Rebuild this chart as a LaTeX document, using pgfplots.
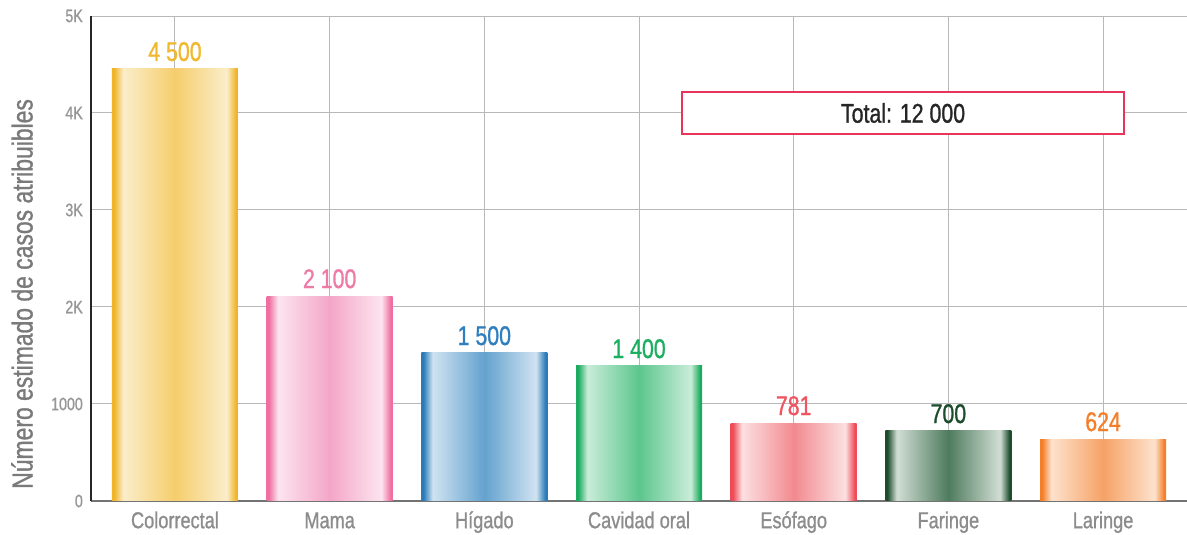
\documentclass[border=0pt]{standalone}
\usepackage{pgfplots}
\pgfplotsset{compat=1.18}
\usepackage{fontspec}
\setmainfont{Liberation Sans}[FakeStretch=0.79, FakeBold=1]

\definecolor{gridc}{HTML}{B8B8B8}
\definecolor{tickc}{HTML}{969696}
\definecolor{catc}{HTML}{8C8C8C}
\definecolor{ylc}{HTML}{7A7A7A}
\definecolor{boxc}{HTML}{E8335A}

\definecolor{d1}{HTML}{F0B429}\definecolor{m1}{HTML}{F5CE6C}\definecolor{l1}{HTML}{FBEDCA}
\definecolor{d2}{HTML}{EE6FA0}\definecolor{m2}{HTML}{F4A6C8}\definecolor{l2}{HTML}{FCE4EF}
\definecolor{d3}{HTML}{2A7BB8}\definecolor{m3}{HTML}{64A2CE}\definecolor{l3}{HTML}{D0E3F1}
\definecolor{d4}{HTML}{1BAA5E}\definecolor{m4}{HTML}{5CC68D}\definecolor{l4}{HTML}{C9EDD9}
\definecolor{d5}{HTML}{EE4B57}\definecolor{m5}{HTML}{F28A8F}\definecolor{l5}{HTML}{FCE0E1}
\definecolor{d6}{HTML}{1E4D2E}\definecolor{m6}{HTML}{4E7B5D}\definecolor{l6}{HTML}{D2DED5}
\definecolor{d7}{HTML}{F47F2A}\definecolor{m7}{HTML}{F6A266}\definecolor{l7}{HTML}{FDE2CC}

\definecolor{v1}{HTML}{F0B82E}
\definecolor{v2}{HTML}{EE7BA6}
\definecolor{v3}{HTML}{2F7FBF}
\definecolor{v4}{HTML}{1DAF60}
\definecolor{v5}{HTML}{EE5560}
\definecolor{v6}{HTML}{1E4D2E}
\definecolor{v7}{HTML}{F47F2A}

\newcommand\mkshade[4]{\pgfdeclarehorizontalshading{#1}{100bp}{color(0bp)=(#2); color(25bp)=(#2); color(25.8bp)=(#2); color(29.5bp)=(#4); color(50bp)=(#3); color(70.5bp)=(#4); color(74.2bp)=(#2); color(75bp)=(#2); color(100bp)=(#2)}}
\mkshade{sh1}{d1}{m1}{l1}
\mkshade{sh2}{d2}{m2}{l2}
\mkshade{sh3}{d3}{m3}{l3}
\mkshade{sh4}{d4}{m4}{l4}
\mkshade{sh5}{d5}{m5}{l5}
\mkshade{sh6}{d6}{m6}{l6}
\mkshade{sh7}{d7}{m7}{l7}

\begin{document}
\begin{tikzpicture}
\path[use as bounding box] (-91pt,-34pt) rectangle (1096pt,501pt);
\begin{axis}[
  scale only axis, width=1096pt, height=485pt,
  xmin=-0.543, xmax=6.543, ymin=0, ymax=5000,
  ybar, bar width=126pt,
  xtick={0,1,2,3,4,5,6},
  xticklabels={Colorrectal,Mama,Hígado,Cavidad oral,Esófago,Faringe,Laringe},
  ytick={0,1000,2000,3000,4000,5000},
  yticklabels={0,1000,2K,3K,4K,5K},
  /pgf/number format/assume math mode=true,
  major tick length=0pt,
  grid=major,
  major grid style={draw=gridc, line width=1pt},
  axis x line*=bottom, axis y line*=left,
  x axis line style={draw=black!55, line width=1.5pt},
  y axis line style={draw=black!85, line width=1.5pt},
  x tick label style={font=\fontsize{23}{26}\selectfont, text=catc, anchor=north, inner sep=0pt, text height=17pt, text depth=5pt, yshift=-10pt},
  y tick label style={font=\fontsize{18}{20}\selectfont, text=tickc, anchor=east, inner sep=0pt, xshift=-8pt},
  ylabel={Número estimado de casos atribuibles},
  every axis y label/.style={at={(axis description cs:0,0.427)}, xshift=-69pt, rotate=90, anchor=center, font=\fontsize{29}{32}\selectfont, text=ylc},
  every node near coord/.append style={anchor=south, inner sep=0pt, yshift=7.5pt, font=\fontsize{27}{30}\selectfont},
  clip=false,
]
\addplot[bar shift=0pt, draw=none, shade, shading=sh1, nodes near coords={4 500}, every node near coord/.append style={text=v1}] coordinates {(0,4455)};
\addplot[bar shift=0pt, draw=none, shade, shading=sh2, nodes near coords={2 100}, every node near coord/.append style={text=v2}] coordinates {(1,2113)};
\addplot[bar shift=0pt, draw=none, shade, shading=sh3, nodes near coords={1 500}, every node near coord/.append style={text=v3}] coordinates {(2,1526)};
\addplot[bar shift=0pt, draw=none, shade, shading=sh4, nodes near coords={1 400}, every node near coord/.append style={text=v4}] coordinates {(3,1392)};
\addplot[bar shift=0pt, draw=none, shade, shading=sh5, nodes near coords={781}, every node near coord/.append style={text=v5}] coordinates {(4,804)};
\addplot[bar shift=0pt, draw=none, shade, shading=sh6, nodes near coords={700}, every node near coord/.append style={text=v6}] coordinates {(5,722)};
\addplot[bar shift=0pt, draw=none, shade, shading=sh7, nodes near coords={624}, every node near coord/.append style={text=v7}] coordinates {(6,639)};
\node[draw=boxc, line width=1.5pt, fill=white, minimum width=442pt, minimum height=42pt, inner sep=0pt, font=\fontsize{27}{30}\selectfont, text=black!85] at (axis cs:4.707,4000) {Total: 12 000};
\end{axis}
\end{tikzpicture}
\end{document}
